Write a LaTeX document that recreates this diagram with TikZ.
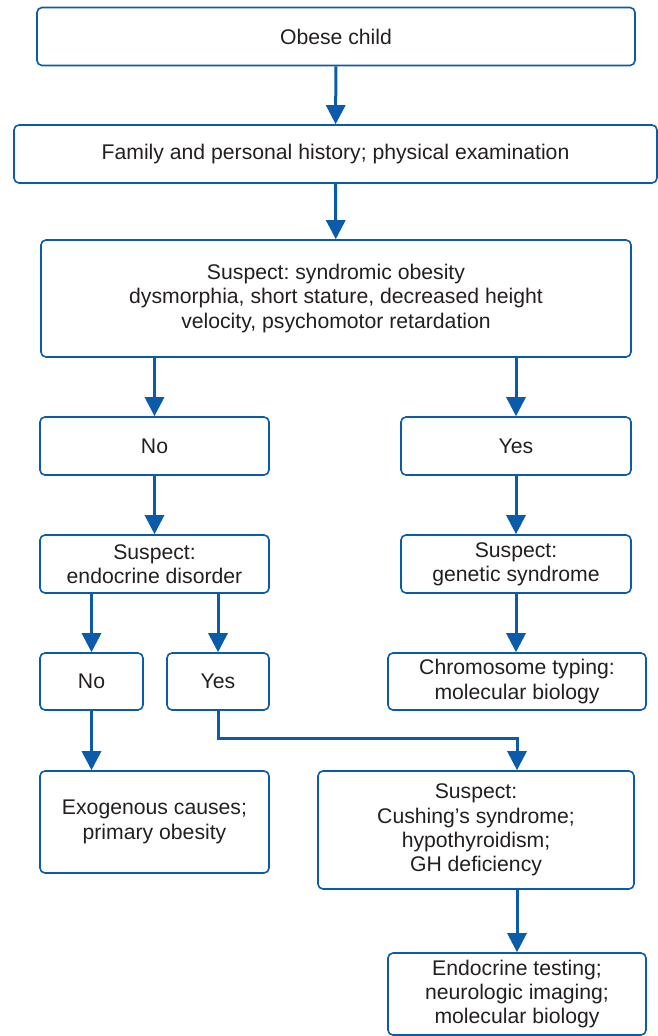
\documentclass[tikz,border=0pt]{standalone}
\usepackage{fontspec}
\setmainfont{Liberation Sans}
\usepackage{tikz}
\usetikzlibrary{arrows.meta}
\definecolor{flowblue}{HTML}{0A5BAA}
\definecolor{flowtext}{HTML}{231F20}
\frenchspacing

\begin{document}
\begin{tikzpicture}[x=1pt,y=-1pt,
    box/.style={draw=flowblue, line width=1.6pt, rounded corners=5pt, align=center,
      text=flowtext, inner sep=0pt, font=\fontsize{21.2}{24.3}\selectfont},
    arr/.style={draw=flowblue, line width=3pt, -{Triangle[length=19pt,width=19pt]}}]
  \useasboundingbox (0,0) rectangle (658,1036);
  \node [box, minimum width=598pt, minimum height=58pt] (obese) at (336,36.5) {Obese child};
  \node [box, minimum width=643pt, minimum height=58pt] (history) at (335.5,154) {Family and personal history; physical examination};
  \node [box, minimum width=590pt, minimum height=117pt] (syndromic) at (336,298.5) {Suspect: syndromic obesity\\dysmorphia, short stature, decreased height\\velocity, psychomotor retardation};
  \node [box, minimum width=229pt, minimum height=58pt] (no1) at (154.5,446) {No};
  \node [box, minimum width=230pt, minimum height=58pt] (yes1) at (516,446) {Yes};
  \node [box, minimum width=229pt, minimum height=58pt] (endocrine) at (154.5,564) {Suspect:\\endocrine disorder};
  \node [box, minimum width=230pt, minimum height=58pt] (genetic) at (516,564) {Suspect:\\genetic syndrome};
  \node [box, minimum width=103pt, minimum height=57pt] (no2) at (91.5,681.5) {No};
  \node [box, minimum width=102pt, minimum height=57pt] (yes2) at (218,681.5) {Yes};
  \node [box, minimum width=258pt, minimum height=57pt] (chromo) at (517,681.5) {Chromosome typing:\\molecular biology};
  \node [box, minimum width=229pt, minimum height=102pt] (exogenous) at (154.5,822) {Exogenous causes;\\primary obesity};
  \node [box, minimum width=316pt, minimum height=118pt] (cushing) at (476,830) {Suspect:\\Cushing’s syndrome;\\hypothyroidism;\\GH deficiency};
  \node [box, minimum width=258pt, minimum height=82pt] (testing) at (517,994) {Endocrine testing;\\neurologic imaging;\\molecular biology};

  \draw [arr] (obese) -- (history);
  \draw [arr] (history) -- (syndromic);
  \draw [arr] (no1 |- syndromic.south) -- (no1);
  \draw [arr] (yes1 |- syndromic.south) -- (yes1);
  \draw [arr] (no1) -- (endocrine);
  \draw [arr] (yes1) -- (genetic);
  \draw [arr] (no2 |- endocrine.south) -- (no2);
  \draw [arr] (yes2 |- endocrine.south) -- (yes2);
  \draw [arr] (genetic) -- (genetic |- chromo.north);
  \draw [arr] (no2) -- (no2 |- exogenous.north);
  % elbow over to the right column
  \draw [arr] (yes2.south) -- ++(0,28) -| (testing.north |- cushing.north);
  \draw [arr] (testing.north |- cushing.south) -- (testing);
\end{tikzpicture}
\end{document}
